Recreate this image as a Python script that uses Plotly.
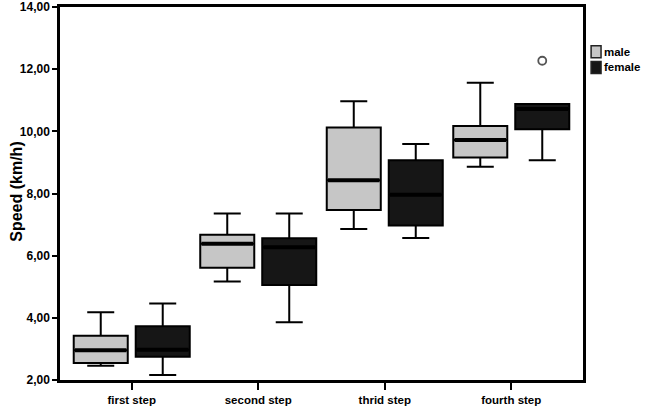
import plotly.graph_objects as go

categories = ["first step", "second step", "thrid step", "fourth step"]

male_low = [2.46, 5.17, 6.86, 8.86]
male_q1 = [2.55, 5.61, 7.47, 9.16]
male_med = [2.96, 6.38, 8.43, 9.72]
male_q3 = [3.42, 6.67, 10.12, 10.17]
male_high = [4.18, 7.36, 10.97, 11.56]

female_low = [2.16, 3.86, 6.57, 9.07]
female_q1 = [2.75, 5.06, 6.97, 10.07]
female_med = [2.97, 6.27, 7.96, 10.72]
female_q3 = [3.73, 6.56, 9.07, 10.88]
female_high = [4.46, 7.36, 9.59, 10.88]

female_outlier_cat = [3]
female_outlier_val = [12.27]

y_ticks = [2, 4, 6, 8, 10, 12, 14]

OFFSET = 0.245
BOXW = 0.427
FONT = "Liberation Sans, Arial"

idx = list(range(len(categories)))
male_pos = [i - OFFSET for i in idx]
female_pos = [i + OFFSET for i in idx]

fig = go.Figure()

fig.add_trace(go.Box(
    x=male_pos, q1=male_q1, median=male_med, q3=male_q3,
    lowerfence=male_low, upperfence=male_high,
    width=BOXW, whiskerwidth=0.5,
    fillcolor="#c6c6c6", line=dict(color="black", width=2),
    name="male", showlegend=False, hoverinfo="skip"))

fig.add_trace(go.Box(
    x=female_pos, q1=female_q1, median=female_med, q3=female_q3,
    lowerfence=female_low, upperfence=female_high,
    width=BOXW, whiskerwidth=0.5,
    fillcolor="#161616", line=dict(color="black", width=2),
    name="female", showlegend=False, hoverinfo="skip"))

# thicker median lines
for pos, meds in ((male_pos, male_med), (female_pos, female_med)):
    for p, m in zip(pos, meds):
        fig.add_trace(go.Scatter(
            x=[p - BOXW / 2 + 0.01, p + BOXW / 2 - 0.01], y=[m, m],
            mode="lines", line=dict(color="black", width=4),
            showlegend=False, hoverinfo="skip"))

# outlier
fig.add_trace(go.Scatter(
    x=[c + OFFSET for c in female_outlier_cat], y=female_outlier_val,
    mode="markers",
    marker=dict(symbol="circle", size=8, color="white",
                line=dict(color="#555555", width=1.8)),
    showlegend=False, hoverinfo="skip"))

# manual legend
legend_items = [("male", "#c6c6c6", 0.880), ("female", "#161616", 0.838)]
shapes = []
annotations = []
for label, col, yp in legend_items:
    shapes.append(dict(type="rect", xref="paper", yref="paper",
                       x0=1.0155, x1=1.0345, y0=yp - 0.016, y1=yp + 0.016,
                       fillcolor=col, line=dict(color="#222222", width=1.5)))
    annotations.append(dict(text=label, xref="paper", yref="paper",
                            x=1.037, y=yp, xanchor="left", yanchor="middle",
                            showarrow=False,
                            font=dict(family=FONT, size=11.5,
                                      color="black", weight="bold")))

# y axis title
annotations.append(dict(text="Speed (km/h)", xref="paper", yref="paper",
                        x=-0.082, y=0.505, xanchor="center", yanchor="middle",
                        textangle=-90, showarrow=False,
                        font=dict(family=FONT, size=16, color="black",
                                  weight="bold")))

fig.update_layout(
    width=646, height=410,
    margin=dict(l=60, r=63, t=7, b=30, autoexpand=False),
    paper_bgcolor="white", plot_bgcolor="white",
    boxmode="overlay",
    separators=",.",
    shapes=shapes, annotations=annotations,
    font=dict(family=FONT, color="black"),
)

fig.update_xaxes(
    range=[-0.567, 3.567], tickmode="array", tickvals=idx, ticktext=categories,
    showgrid=False, zeroline=False, automargin=False,
    showline=True, linecolor="black", linewidth=2.5, mirror=True,
    ticks="outside", ticklen=7, tickwidth=2, tickcolor="black",
    tickfont=dict(size=11.5, weight="bold", family=FONT),
)
fig.update_yaxes(
    range=[2, 14], tickmode="array", tickvals=y_ticks, tickformat=".2f",
    showgrid=False, zeroline=False, automargin=False,
    ticklabeloverflow="allow",
    showline=True, linecolor="black", linewidth=2.5, mirror=True,
    ticks="outside", ticklen=5, tickwidth=2, tickcolor="black",
    tickfont=dict(size=12, weight="bold", family=FONT),
)

fig.write_html("out.html", config={"displayModeBar": False},
               post_script="document.body.style.margin='0';")
